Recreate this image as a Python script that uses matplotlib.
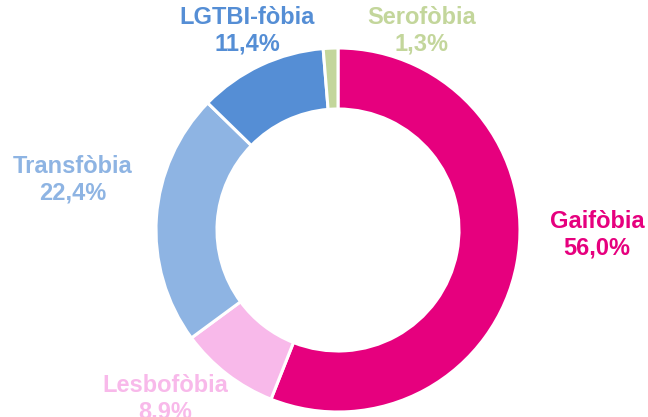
import matplotlib.pyplot as plt

plt.rcParams['font.family'] = ['Liberation Sans', 'DejaVu Sans']

# dades
categories = ['Gaifòbia', 'Lesbofòbia', 'Transfòbia', 'LGTBI-fòbia', 'Serofòbia']
values = [56.0, 8.9, 22.4, 11.4, 1.3]
colors = ['#E6007E', '#F8B9EA', '#8EB4E3', '#558ED5', '#C3D69B']

# posicions de les etiquetes (pixels, origen a dalt a l'esquerra)
label_pos = [(597, 235), (165, 399), (73, 180), (247, 31), (422, 31)]

W, H = 648, 417
fig = plt.figure(figsize=(W / 100, H / 100), dpi=100)
ax = fig.add_axes([0, 0, 1, 1])

cx, cy, r = 338, 230, 182
ax.pie(values, colors=colors, startangle=90, counterclock=False,
       center=(cx, H - cy), radius=r,
       wedgeprops=dict(width=61, edgecolor='white', linewidth=2.2))

for name, val, col, (x, y) in zip(categories, values, colors, label_pos):
    txt = f'{name}\n{val:.1f}%'.replace('.', ',')
    ax.text(x, H - y, txt, ha='center', va='center', color=col,
            fontsize=17, fontweight='bold', linespacing=1.2)

ax.set_xlim(0, W)
ax.set_ylim(0, H)
ax.set_aspect('equal')
ax.axis('off')

plt.savefig('out.png', dpi=100)
plt.close()
